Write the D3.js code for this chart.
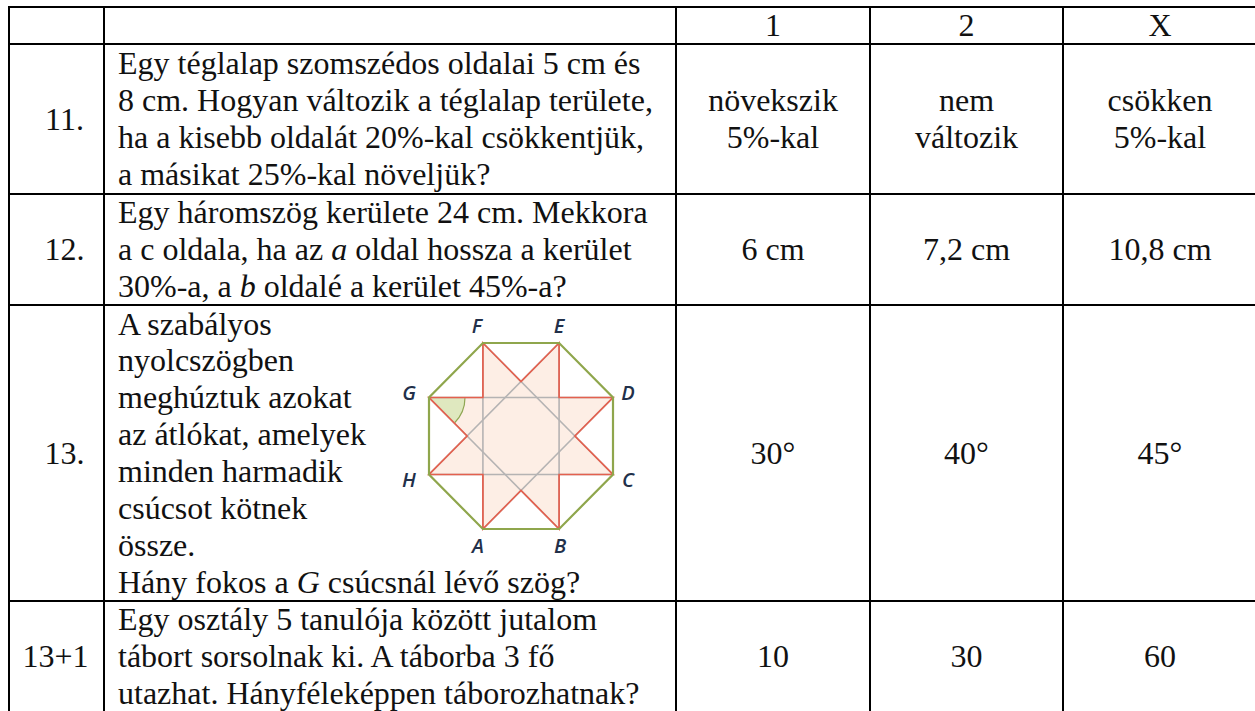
<!DOCTYPE html>
<html>
<head>
<meta charset="utf-8">
<script src="https://cdn.jsdelivr.net/npm/d3@7"></script>
<style>
  html, body { margin: 0; padding: 0; background: #fff; }
  svg { display: block; }
</style>
</head>
<body>
<div id="chart"></div>
<script>
// table content, *x* marks italic
const headers = ["", "", "1", "2", "X"];
const rowNumbers = ["11.", "12.", "13.", "13+1"];
const questions = [
  ["Egy téglalap szomszédos oldalai 5 cm és", "8 cm. Hogyan változik a téglalap területe,", "ha a kisebb oldalát 20%-kal csökkentjük,", "a másikat 25%-kal növeljük?"],
  ["Egy háromszög kerülete 24 cm. Mekkora", "a c oldala, ha az *a* oldal hossza a kerület", "30%-a, a *b* oldalé a kerület 45%-a?"],
  ["A szabályos", "nyolcszögben", "meghúztuk azokat", "az átlókat, amelyek", "minden harmadik", "csúcsot kötnek", "össze.", "Hány fokos a *G* csúcsnál lévő szög?"],
  ["Egy osztály 5 tanulója között jutalom", "tábort sorsolnak ki. A táborba 3 fő", "utazhat. Hányféleképpen táborozhatnak?"]
];
const answers1 = [["növekszik", "5%-kal"], ["6 cm"], ["30°"], ["10"]];
const answers2 = [["nem", "változik"], ["7,2 cm"], ["40°"], ["30"]];
const answersX = [["csökken", "5%-kal"], ["10,8 cm"], ["45°"], ["60"]];

// octagon corners on a unit square, A..H going round
const vertexNames = ["A", "B", "C", "D", "E", "F", "G", "H"];
const vertexU = [0.293, 0.707, 1, 1, 0.707, 0.293, 0, 0];
const vertexV = [1, 1, 0.707, 0.293, 0, 0, 0.293, 0.707];

const width = 1255, height = 711;
// last column and last row run off the page, same as the scan
const colEdges = [9, 104, 676, 870, 1063, 1257];
const rowEdges = [7, 44, 194, 305, 601, 712];
const lineHeight = 36.9;
const fontSize = 32;

const svg = d3.select("#chart").append("svg")
  .attr("width", width)
  .attr("height", height)
  .attr("viewBox", `0 0 ${width} ${height}`)
  .style("font-family", "'Liberation Serif', 'Times New Roman', serif")
  .style("font-size", `${fontSize}px`)
  .style("fill", "#111");

svg.append("rect").attr("width", width).attr("height", height).attr("fill", "#fff");

// text block helper, splits on *..* for the italic bits
const addLine = (g, str, x, baseline, anchor) => {
  const t = g.append("text")
    .attr("x", x)
    .attr("y", baseline)
    .attr("text-anchor", anchor)
    .attr("xml:space", "preserve");
  str.split("*").forEach((part, i) => {
    t.append("tspan").text(part).style("font-style", i % 2 ? "italic" : "normal");
  });
};

const addBlock = (g, lines, x, rowIdx, anchor) => {
  const blockTop = (rowEdges[rowIdx] + rowEdges[rowIdx + 1]) / 2 - lines.length * lineHeight / 2;
  lines.forEach((str, i) => {
    addLine(g, str, x, blockTop + i * lineHeight + lineHeight * 0.79, anchor);
  });
};

const textLayer = svg.append("g");
const mid = (c) => (colEdges[c] + colEdges[c + 1]) / 2;

headers.forEach((h, c) => { if (h) addBlock(textLayer, [h], mid(c), 0, "middle"); });

rowNumbers.forEach((label, r) => {
  // the dotted numbers sit right of centre in the original
  addBlock(textLayer, [label], label.endsWith(".") ? mid(0) + 8 : mid(0) - 1, r + 1, "middle");
  addBlock(textLayer, questions[r], colEdges[1] + 14, r + 1, "start");
  addBlock(textLayer, answers1[r], mid(2), r + 1, "middle");
  addBlock(textLayer, answers2[r], mid(3), r + 1, "middle");
  addBlock(textLayer, answersX[r], mid(4), r + 1, "middle");
});

// grid
const grid = svg.append("g").attr("stroke", "#000").attr("stroke-width", 2);
grid.selectAll("line.h")
  .data(rowEdges)
  .enter().append("line")
  .attr("x1", colEdges[0] - 1)
  .attr("x2", colEdges[colEdges.length - 1] + 1)
  .attr("y1", (d) => d)
  .attr("y2", (d) => d);
grid.selectAll("line.v")
  .data(colEdges)
  .enter().append("line")
  .attr("x1", (d) => d)
  .attr("x2", (d) => d)
  .attr("y1", rowEdges[0])
  .attr("y2", rowEdges[rowEdges.length - 1]);

/* octagon figure */
const sx = d3.scaleLinear().domain([0, 1]).range([429, 613]);
const sy = d3.scaleLinear().domain([0, 1]).range([343, 529]);
const pts = vertexNames.map((name, i) => ({name, x: sx(vertexU[i]), y: sy(vertexV[i])}));
const at = (i) => pts[(i + 8) % 8];

const cross = (a, b, c, d) => {
  const den = (a.x - b.x) * (c.y - d.y) - (a.y - b.y) * (c.x - d.x);
  const p = a.x * b.y - a.y * b.x, q = c.x * d.y - c.y * d.x;
  return {x: (p * (c.x - d.x) - (a.x - b.x) * q) / den, y: (p * (c.y - d.y) - (a.y - b.y) * q) / den};
};

// star outline: each corner then the notch before the next corner
const star = pts.flatMap((p, i) => [p, cross(p, at(i + 3), at(i + 1), at(i - 2))]);
const outline = d3.line().x((d) => d.x).y((d) => d.y).curve(d3.curveLinearClosed);

const fig = svg.append("g");
fig.append("path").attr("d", outline(star)).attr("fill", "#fdeee5");

const G = pts[6];
fig.append("path")
  .attr("transform", `translate(${G.x},${G.y})`)
  .attr("d", d3.arc()({innerRadius: 0, outerRadius: 36, startAngle: Math.PI / 2, endAngle: Math.PI * 3 / 4}))
  .attr("fill", "#dfe8bf");
fig.append("path")
  .attr("transform", `translate(${G.x},${G.y})`)
  .attr("d", d3.arc()({innerRadius: 36, outerRadius: 36, startAngle: Math.PI / 2, endAngle: Math.PI * 3 / 4}))
  .attr("fill", "none")
  .attr("stroke", "#8fa653")
  .attr("stroke-width", 1.2);

fig.selectAll("line.chord")
  .data(pts)
  .enter().append("line")
  .attr("x1", (d) => d.x)
  .attr("y1", (d) => d.y)
  .attr("x2", (d, i) => at(i + 3).x)
  .attr("y2", (d, i) => at(i + 3).y)
  .attr("stroke", "#b5b3b3")
  .attr("stroke-width", 1.6);

fig.append("path").attr("d", outline(star))
  .attr("fill", "none")
  .attr("stroke", "#e4604e")
  .attr("stroke-width", 1.7);

fig.append("path").attr("d", outline(pts))
  .attr("fill", "none")
  .attr("stroke", "#8fa64c")
  .attr("stroke-width", 2.2);

// corner letters pushed out from the figure
const labelShift = {A: [-5, 24], B: [1, 24], C: [15, 12.5], D: [15, 3], E: [0, -10], F: [-6, -10], G: [-20, 3], H: [-20, 12.5]};
fig.selectAll("text")
  .data(pts)
  .enter().append("text")
  .attr("x", (d) => d.x + labelShift[d.name][0])
  .attr("y", (d) => d.y + labelShift[d.name][1])
  .attr("text-anchor", "middle")
  .style("font-family", "'Open Sans', sans-serif")
  .style("font-size", "20px")
  .style("font-style", "italic")
  .style("font-weight", 600)
  .style("fill", "#22304a")
  .text((d) => d.name);
</script>
</body>
</html>
